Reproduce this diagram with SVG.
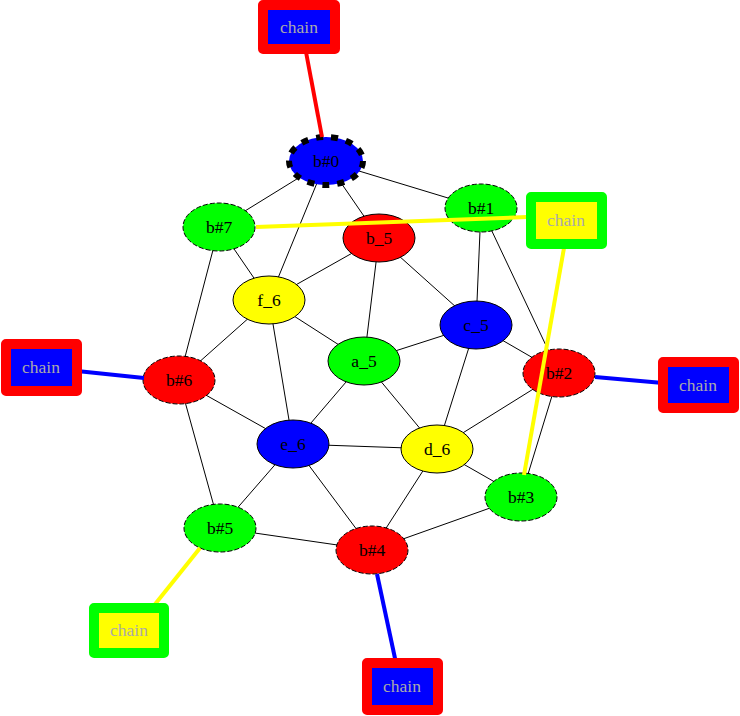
<svg xmlns="http://www.w3.org/2000/svg" width="740" height="716" viewBox="0 0 740 716">
<style>
.e{stroke:#000;stroke-width:1;fill:none}
.n{stroke:#000;stroke-width:1}
.d{stroke-dasharray:5,2}
.t{font-family:"Liberation Serif","Times New Roman",serif;font-size:17.5px;text-anchor:middle;fill:#000}
.ct{font-family:"Liberation Serif","Times New Roman",serif;font-size:17.5px;text-anchor:middle;fill:#aaaaaa}
.box{stroke-width:10;stroke-linejoin:round}
.ce{stroke-width:4;fill:none}
</style>
<rect width="740" height="716" fill="#fff"/>
<g id="edges">
<line class="e" x1="326" y1="161" x2="219" y2="227"/>
<line class="e" x1="326" y1="161" x2="269" y2="300"/>
<line class="e" x1="326" y1="161" x2="379" y2="238"/>
<line class="e" x1="326" y1="161" x2="481" y2="208"/>
<line class="e" x1="219" y1="227" x2="269" y2="300"/>
<line class="e" x1="219" y1="227" x2="179" y2="380"/>
<line class="e" x1="379" y1="238" x2="269" y2="300"/>
<line class="e" x1="379" y1="238" x2="364" y2="361"/>
<line class="e" x1="379" y1="238" x2="476" y2="325"/>
<line class="e" x1="481" y1="208" x2="476" y2="325"/>
<line class="e" x1="481" y1="208" x2="559" y2="373"/>
<line class="e" x1="269" y1="300" x2="364" y2="361"/>
<line class="e" x1="269" y1="300" x2="179" y2="380"/>
<line class="e" x1="269" y1="300" x2="293" y2="444"/>
<line class="e" x1="364" y1="361" x2="476" y2="325"/>
<line class="e" x1="364" y1="361" x2="293" y2="444"/>
<line class="e" x1="364" y1="361" x2="437" y2="449"/>
<line class="e" x1="476" y1="325" x2="559" y2="373"/>
<line class="e" x1="476" y1="325" x2="437" y2="449"/>
<line class="e" x1="559" y1="373" x2="437" y2="449"/>
<line class="e" x1="559" y1="373" x2="521" y2="497"/>
<line class="e" x1="179" y1="380" x2="293" y2="444"/>
<line class="e" x1="179" y1="380" x2="220" y2="528"/>
<line class="e" x1="293" y1="444" x2="437" y2="449"/>
<line class="e" x1="293" y1="444" x2="220" y2="528"/>
<line class="e" x1="293" y1="444" x2="372" y2="550"/>
<line class="e" x1="437" y1="449" x2="372" y2="550"/>
<line class="e" x1="437" y1="449" x2="521" y2="497"/>
<line class="e" x1="521" y1="497" x2="372" y2="550"/>
<line class="e" x1="220" y1="528" x2="372" y2="550"/>
</g>
<g id="b0"><ellipse cx="326" cy="161" rx="37" ry="24" fill="#0000ff" stroke="#000" stroke-width="6" stroke-dasharray="7,8"/><text class="t" x="326" y="167">b#0</text></g>
<g id="b7"><ellipse class="n d" cx="219" cy="227" rx="36" ry="24" fill="#00ff00"/><text class="t" x="219" y="233">b#7</text></g>
<g id="b_5"><ellipse class="n" cx="379" cy="238" rx="36" ry="24" fill="#ff0000"/><text class="t" x="379" y="244">b_5</text></g>
<g id="b1"><ellipse class="n d" cx="481" cy="208" rx="36" ry="24" fill="#00ff00"/><text class="t" x="481" y="214">b#1</text></g>
<g id="f_6"><ellipse class="n" cx="269" cy="300" rx="36" ry="24" fill="#ffff00"/><text class="t" x="269" y="306">f_6</text></g>
<g id="a_5"><ellipse class="n" cx="364" cy="361" rx="36" ry="24" fill="#00ff00"/><text class="t" x="364" y="367">a_5</text></g>
<g id="c_5"><ellipse class="n" cx="476" cy="325" rx="36" ry="24" fill="#0000ff"/><text class="t" x="476" y="331">c_5</text></g>
<g id="b2"><ellipse class="n d" cx="559" cy="373" rx="36" ry="24" fill="#ff0000"/><text class="t" x="559" y="379">b#2</text></g>
<g id="b6"><ellipse class="n d" cx="179" cy="380" rx="36" ry="24" fill="#ff0000"/><text class="t" x="179" y="386">b#6</text></g>
<g id="e_6"><ellipse class="n" cx="293" cy="444" rx="36" ry="24" fill="#0000ff"/><text class="t" x="293" y="450">e_6</text></g>
<g id="d_6"><ellipse class="n" cx="437" cy="449" rx="36" ry="24" fill="#ffff00"/><text class="t" x="437" y="455">d_6</text></g>
<g id="b3"><ellipse class="n d" cx="521" cy="497" rx="36" ry="24" fill="#00ff00"/><text class="t" x="521" y="503">b#3</text></g>
<g id="b5"><ellipse class="n d" cx="220" cy="528" rx="36" ry="24" fill="#00ff00"/><text class="t" x="220" y="534">b#5</text></g>
<g id="b4"><ellipse class="n d" cx="372" cy="550" rx="36" ry="24" fill="#ff0000"/><text class="t" x="372" y="556">b#4</text></g>
<g id="chain-edges">
<line class="ce" stroke="#ff0000" x1="306" y1="52" x2="322" y2="137"/>
<line class="ce" stroke="#ffff00" x1="256" y1="227" x2="527" y2="217"/>
<line class="ce" stroke="#ffff00" x1="564" y1="248" x2="524" y2="475"/>
<line class="ce" stroke="#0000ff" x1="77" y1="371" x2="144" y2="378"/>
<line class="ce" stroke="#0000ff" x1="595" y1="377" x2="663" y2="383"/>
<line class="ce" stroke="#ffff00" x1="200" y1="548" x2="152" y2="608"/>
<line class="ce" stroke="#0000ff" x1="377" y1="574" x2="396" y2="663"/>
</g>
<g id="chain0"><rect class="box" x="263" y="5" width="72" height="44" fill="#0000ff" stroke="#ff0000"/><text class="ct" x="299" y="33">chain</text></g>
<g id="chain1"><rect class="box" x="531" y="197" width="71" height="47" fill="#ffff00" stroke="#00ff00"/><text class="ct" x="566" y="226">chain</text></g>
<g id="chain2"><rect class="box" x="663" y="362" width="71" height="46" fill="#0000ff" stroke="#ff0000"/><text class="ct" x="698" y="391">chain</text></g>
<g id="chain3"><rect class="box" x="6" y="344" width="71" height="47" fill="#0000ff" stroke="#ff0000"/><text class="ct" x="41" y="373">chain</text></g>
<g id="chain4"><rect class="box" x="94" y="608" width="70" height="45" fill="#ffff00" stroke="#00ff00"/><text class="ct" x="129" y="636">chain</text></g>
<g id="chain5"><rect class="box" x="367" y="663" width="71" height="47" fill="#0000ff" stroke="#ff0000"/><text class="ct" x="402" y="692">chain</text></g>
</svg>
